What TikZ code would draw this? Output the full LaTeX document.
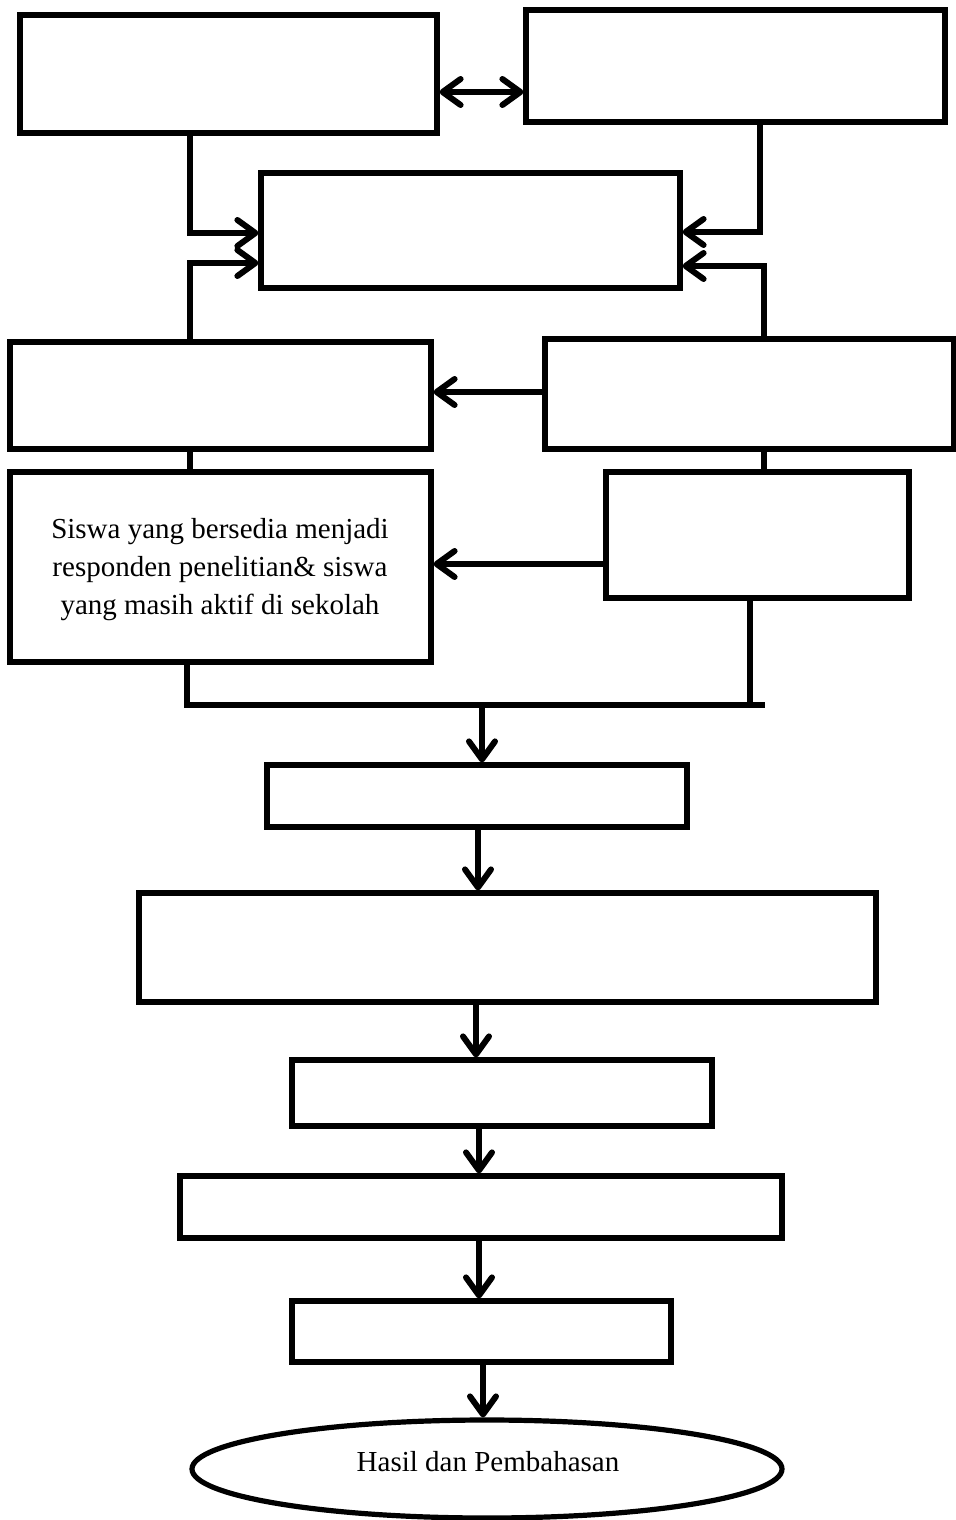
\documentclass[tikz,border=0pt]{standalone}
\usepackage{fontspec}
\setmainfont{Liberation Serif}
\usetikzlibrary{arrows.meta,fit,shapes.geometric}
\begin{document}
\begin{tikzpicture}[x=0.5pt,y=-0.5pt,
  box/.style={draw,line width=2.6pt,inner sep=0pt,rectangle},
  ln/.style={line width=3pt},
  arr/.style={line width=3pt,-{Straight Barb[length=9pt,width=13pt,round]}},
  darr/.style={line width=3pt,{Straight Barb[length=9pt,width=13pt,round]}-{Straight Barb[length=9pt,width=13pt,round]}},
  txt/.style={font=\fontsize{14.5}{19}\selectfont,align=center}]
\useasboundingbox (0,0) rectangle (956,1520);
\node[box,fit={(20,15)(437,133)}] (b1) {};
\node[box,fit={(526,10)(945,122)}] (b2) {};
\node[box,fit={(261,173)(680,288)}] (b3) {};
\node[box,fit={(10,342)(431,449)}] (b4) {};
\node[box,fit={(545,339)(954,449)}] (b5) {};
\node[box,fit={(10,472)(431,662)}] (b6) {};
\node[txt] (b6t) at (220,570) {Siswa yang bersedia menjadi\\responden penelitian\& siswa\\yang masih aktif di sekolah};
\node[box,fit={(606,472)(909,598)}] (b7) {};
\node[box,fit={(267,765)(687,827)}] (b8) {};
\node[box,fit={(139,893)(876,1002)}] (b9) {};
\node[box,fit={(292,1060)(712,1126)}] (b10) {};
\node[box,fit={(180,1176)(782,1238)}] (b11) {};
\node[box,fit={(292,1301)(671,1362)}] (b12) {};
\node[draw,ellipse,line width=2.6pt,inner sep=0pt,minimum width=295pt,minimum height=49pt] (el) at (487,1469) {};
\node[txt] (elt) at (488,1462) {Hasil dan Pembahasan};
\coordinate (jl) at (187,705);
\coordinate (jr) at (765,705);
\coordinate (jm) at (482,705);
% top connectors
\draw[darr] (b1.east |- 0,92) -- (b2.west |- 0,92);
\draw[arr] (b1.south -| 190,0) |- (b3.west |- 0,233);
\draw[arr] (b4.north -| 190,0) |- (b3.west |- 0,263);
\draw[arr] (b2.south -| 760,0) |- (b3.east |- 0,232);
\draw[arr] (b5.north -| 764,0) |- (b3.east |- 0,266);
\draw[arr] (b5.west |- 0,392) -- (b4.east |- 0,392);
\draw[ln] (b4.south -| 190,0) -- (b6.north -| 190,0);
\draw[ln] (b5.south -| 764,0) -- (b7.north -| 764,0);
\draw[arr] (b7.west |- 0,564) -- (b6.east |- 0,564);
% merge
\draw[ln] (b6.south -| jl) -- (jl) -- (jr);
\draw[ln] (b7.south -| 750,0) -- (750,705);
\draw[arr] (jm) -- (b8.north -| jm);
% lower chain
\draw[arr] (b8.south -| 478,0) -- (b9.north -| 478,0);
\draw[arr] (b9.south -| 476,0) -- (b10.north -| 476,0);
\draw[arr] (b10.south -| 479,0) -- (b11.north -| 479,0);
\draw[arr] (b11.south -| 479,0) -- (b12.north -| 479,0);
\draw[arr] (b12.south -| 483,0) -- (el.north -| 483,0);
\end{tikzpicture}
\end{document}
